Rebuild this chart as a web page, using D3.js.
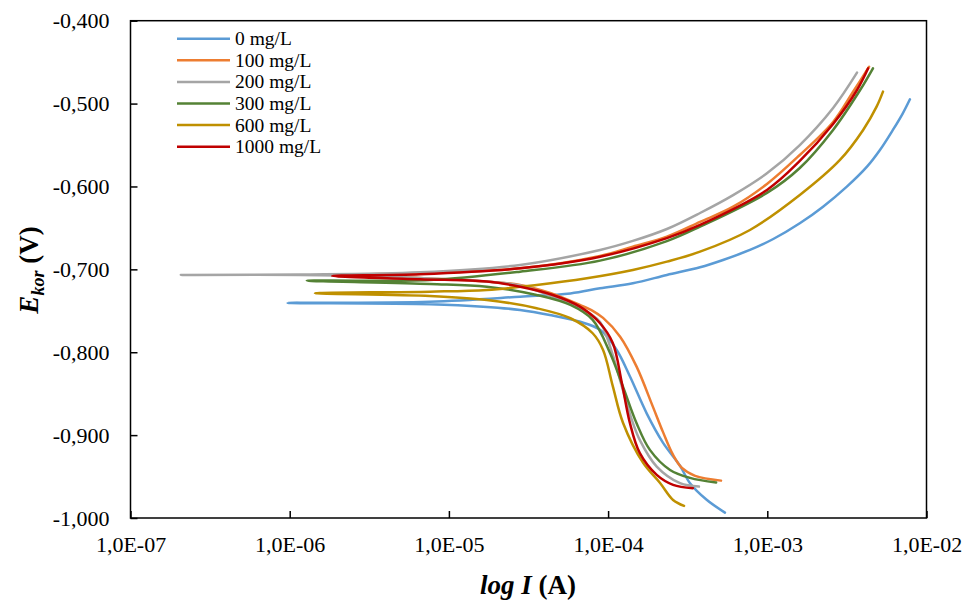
<!DOCTYPE html>
<html>
<head>
<meta charset="utf-8">
<script src="https://cdn.jsdelivr.net/npm/d3@7"></script>
<style>
  html, body { margin: 0; padding: 0; background: #fff; }
  svg { display: block; font-family: "Liberation Serif", "Times New Roman", serif; }
</style>
</head>
<body>
<svg id="chart" width="967" height="601"></svg>
<script>
// ---- data ----
const seriesNames = ["0 mg/L", "100 mg/L", "200 mg/L", "300 mg/L", "600 mg/L", "1000 mg/L"];
const xTickValues = [1e-7, 1e-6, 1e-5, 1e-4, 1e-3, 1e-2];
const yTickValues = [-1.0, -0.9, -0.8, -0.7, -0.6, -0.5, -0.4];

// [current (A), potential (V)] from corrosion point outward
const cathodic0 = [[9.7e-7,-0.7405],[7.6e-6,-0.7421],[1.64e-5,-0.745],[2.8e-5,-0.749],[4.3e-5,-0.755],[6.6e-5,-0.763],[8.9e-5,-0.773],[1.13e-4,-0.797],[1.37e-4,-0.829],[1.75e-4,-0.874],[2.21e-4,-0.909],[2.83e-4,-0.937],[3.27e-4,-0.958],[4.16e-4,-0.978],[5.42e-4,-0.9935]];
const anodic0 = [[9.7e-7,-0.7405],[7.6e-6,-0.739],[2.8e-5,-0.733],[5.8e-5,-0.729],[8.9e-5,-0.7228],[1.43e-4,-0.7168],[2.34e-4,-0.7068],[3.78e-4,-0.6975],[5.27e-4,-0.6887],[7.78e-4,-0.6766],[1.09e-3,-0.6634],[1.6e-3,-0.6444],[2.24e-3,-0.6244],[3.16e-3,-0.6002],[4.23e-3,-0.5761],[5.1e-3,-0.556],[6.15e-3,-0.5318],[7.1e-3,-0.5117],[7.87e-3,-0.4948]];

const cathodic1 = [[2.1e-6,-0.7074],[6.6e-6,-0.7104],[2.8e-5,-0.7188],[4.5e-5,-0.7297],[6.65e-5,-0.743],[8.0e-5,-0.750],[9.3e-5,-0.7586],[1.19e-4,-0.7812],[1.51e-4,-0.8174],[1.91e-4,-0.8656],[2.21e-4,-0.8961],[2.56e-4,-0.9239],[2.91e-4,-0.9396],[3.52e-4,-0.9492],[5.12e-4,-0.9549]];
const anodic1 = [[2.1e-6,-0.7074],[6.6e-6,-0.7043],[2.8e-5,-0.6987],[8.9e-5,-0.6838],[1.43e-4,-0.6726],[2.34e-4,-0.6606],[3.78e-4,-0.6428],[6.1e-4,-0.6244],[9.95e-4,-0.597],[1.6e-3,-0.562],[2.59e-3,-0.5222],[3.45e-3,-0.486],[4.36e-3,-0.4555]];

const cathodic2 = [[2.07e-7,-0.7068],[1.16e-6,-0.7068],[6.6e-6,-0.7104],[2.8e-5,-0.7194],[4.5e-5,-0.7333],[6.65e-5,-0.7462],[8.9e-5,-0.7635],[9.7e-5,-0.7791],[1.07e-4,-0.8033],[1.41e-4,-0.8817],[1.58e-4,-0.9058],[2.02e-4,-0.938],[2.83e-4,-0.958],[3.72e-4,-0.9621]];
const anodic2 = [[2.07e-7,-0.7068],[1.16e-6,-0.7062],[6.6e-6,-0.7035],[2.8e-5,-0.6947],[8.9e-5,-0.6766],[1.43e-4,-0.6657],[2.34e-4,-0.6513],[3.78e-4,-0.632],[6.1e-4,-0.6104],[9.95e-4,-0.5841],[1.6e-3,-0.55],[2.59e-3,-0.5053],[3.66e-3,-0.4627]];

const cathodic3 = [[1.28e-6,-0.7136],[7.6e-6,-0.7176],[1.73e-5,-0.7209],[3.56e-5,-0.7309],[5.8e-5,-0.743],[8.0e-5,-0.761],[1.03e-4,-0.8012],[1.24e-4,-0.8415],[1.51e-4,-0.8857],[1.83e-4,-0.9178],[2.45e-4,-0.942],[3.27e-4,-0.9516],[4.77e-4,-0.9573]];
const anodic3 = [[1.28e-6,-0.7136],[7.6e-6,-0.7128],[2.8e-5,-0.7028],[8.9e-5,-0.6895],[2.34e-4,-0.666],[3.78e-4,-0.6485],[9.95e-4,-0.6078],[1.6e-3,-0.5777],[2.59e-3,-0.5318],[3.83e-3,-0.4836],[4.61e-3,-0.4574]];

const cathodic4 = [[1.44e-6,-0.7288],[7.6e-6,-0.7321],[1.73e-5,-0.7369],[3.56e-5,-0.7469],[5.8e-5,-0.759],[8.0e-5,-0.7771],[9.3e-5,-0.7972],[1.07e-4,-0.8408],[1.24e-4,-0.885],[1.66e-4,-0.9335],[2.12e-4,-0.9577],[2.56e-4,-0.9782],[3.0e-4,-0.9854]];
const anodic4 = [[1.44e-6,-0.7288],[7.6e-6,-0.7269],[1.73e-5,-0.7248],[3.56e-5,-0.7188],[7.35e-5,-0.7107],[1.43e-4,-0.7007],[2.34e-4,-0.6907],[3.78e-4,-0.6787],[7.78e-4,-0.6525],[1.6e-3,-0.6103],[2.86e-3,-0.568],[4.0e-3,-0.5318],[4.86e-3,-0.5037],[5.33e-3,-0.4856]];

const cathodic5 = [[1.85e-6,-0.708],[6.6e-6,-0.7119],[1.73e-5,-0.7148],[2.8e-5,-0.7209],[4.5e-5,-0.7309],[6.65e-5,-0.745],[8.9e-5,-0.765],[1.07e-4,-0.7888],[1.22e-4,-0.837],[1.37e-4,-0.8853],[1.58e-4,-0.9215],[2.02e-4,-0.948],[2.56e-4,-0.96],[3.41e-4,-0.964]];
const anodic5 = [[1.85e-6,-0.708],[6.6e-6,-0.7059],[2.8e-5,-0.6987],[8.9e-5,-0.6847],[2.34e-4,-0.6623],[3.78e-4,-0.6464],[9.95e-4,-0.6042],[1.6e-3,-0.5692],[2.59e-3,-0.5246],[3.66e-3,-0.4836],[4.3e-3,-0.4574]];

const cathodicAll = [cathodic0, cathodic1, cathodic2, cathodic3, cathodic4, cathodic5];
const anodicAll = [anodic0, anodic1, anodic2, anodic3, anodic4, anodic5];
const colors = ["#5B9BD5", "#ED7D31", "#A5A5A5", "#548235", "#BF9000", "#C00000"];

// ---- layout ----
const svg = d3.select("#chart");
const plotL = 130.5, plotR = 926.5, plotT = 20.7, plotB = 518;
const x = d3.scaleLog().domain([1e-7, 1e-2]).range([plotL, plotR]);
const y = d3.scaleLinear().domain([-1.0, -0.4]).range([plotB, plotT]);

// series (drawn in order so 1000 mg/L is on top)
const line = d3.line().x(d => x(d[0])).y(d => y(d[1])).curve(d3.curveCatmullRom.alpha(0.5));
const seriesData = seriesNames.map((name, i) => ({
  name, color: colors[i],
  pts: cathodicAll[i].slice().reverse().concat(anodicAll[i].slice(1))
}));
svg.append("g").selectAll("path").data(seriesData).join("path")
  .attr("d", d => line(d.pts))
  .attr("fill", "none")
  .attr("stroke", d => d.color)
  .attr("stroke-width", 2.5)
  .attr("stroke-linejoin", "round")
  .attr("stroke-linecap", "round");

// frame
svg.append("rect").attr("x", plotL).attr("y", plotT).attr("width", plotR - plotL).attr("height", plotB - plotT)
  .attr("fill", "none").attr("stroke", "#000").attr("stroke-width", 1.5);

// axes
const fmtY = v => d3.format(".3f")(v).replace("−", "-").replace(".", ",");
const fmtX = v => { const e = Math.round(Math.log10(v)); return "1,0E" + (e < 0 ? "-" : "+") + String(Math.abs(e)).padStart(2, "0"); };

const xAxis = d3.axisBottom(x).tickValues(xTickValues).tickFormat(fmtX).tickSize(-7).tickPadding(18);
const gx = svg.append("g").attr("transform", `translate(0,${plotB})`).call(xAxis);
gx.select(".domain").remove();
gx.selectAll(".tick line").attr("stroke", "#000").attr("stroke-width", 1.5);
gx.selectAll(".tick text").attr("font-family", "Liberation Serif").attr("font-size", 22).attr("fill", "#000").attr("dy", "0.71em");

const yAxis = d3.axisLeft(y).tickValues(yTickValues).tickFormat(fmtY).tickSize(-7).tickPadding(21);
const gy = svg.append("g").attr("transform", `translate(${plotL},0)`).call(yAxis);
gy.select(".domain").remove();
gy.selectAll(".tick line").attr("stroke", "#000").attr("stroke-width", 1.5);
gy.selectAll(".tick text").attr("font-family", "Liberation Serif").attr("font-size", 22).attr("fill", "#000");

// axis titles
const xt = svg.append("text").attr("x", 528).attr("y", 594).attr("text-anchor", "middle")
  .attr("font-size", 27).attr("font-weight", "bold").attr("fill", "#000");
xt.append("tspan").attr("font-style", "italic").text("log I");
xt.append("tspan").text(" (A)");

const yt = svg.append("text").attr("transform", "translate(38,270) rotate(-90)").attr("text-anchor", "middle")
  .attr("font-size", 27).attr("font-weight", "bold").attr("fill", "#000");
yt.append("tspan").attr("font-style", "italic").text("E");
yt.append("tspan").attr("font-style", "italic").attr("font-size", 18).attr("dy", 6).text("kor");
yt.append("tspan").attr("dy", -6).text(" (V)");

// legend
const lg = svg.append("g");
seriesNames.forEach((name, i) => {
  const ly = 38.7 + i * 21.6;
  lg.append("line").attr("x1", 177).attr("x2", 230).attr("y1", ly).attr("y2", ly)
    .attr("stroke", colors[i]).attr("stroke-width", 2.5);
  lg.append("text").attr("x", 235).attr("y", ly).attr("dy", "0.33em")
    .attr("font-size", 19.5).attr("fill", "#000").text(name);
});
</script>
</body>
</html>
